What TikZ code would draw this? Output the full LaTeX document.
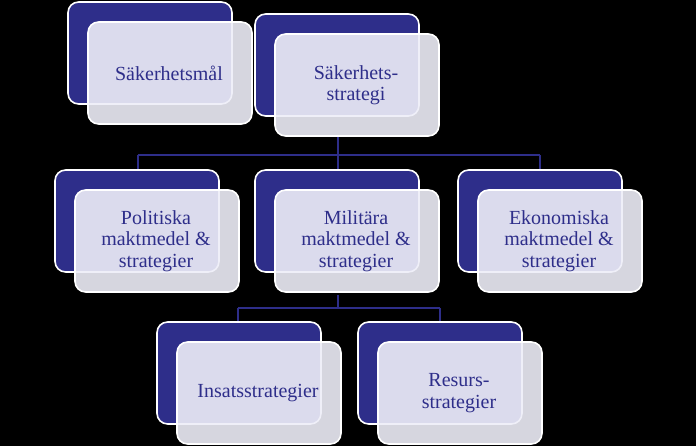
\documentclass[tikz,border=0pt]{standalone}
\usepackage{fontspec}
\setmainfont{Liberation Serif}
\definecolor{navy}{HTML}{2E2E8A}
\definecolor{front}{HTML}{EEEEF8}
\begin{document}
\begin{tikzpicture}[x=0.75pt,y=-0.75pt,
  back/.style={draw=white,line width=1.2pt,fill=navy,rounded corners=8pt},
  frontbox/.style={draw=white,line width=1.2pt,fill=front,fill opacity=0.9,rounded corners=8pt},
  lbl/.style={text=navy,font=\fontsize{15}{16}\selectfont,align=center},
  conn/.style={draw=navy,line width=1pt}]
\fill[black] (0,0) rectangle (696,446);
\useasboundingbox (0,0) rectangle (696,446);
% connectors
\coordinate (t1) at (338,137);
\coordinate (h1) at (338,155);
\coordinate (h1l) at (138,155);
\coordinate (h1r) at (540,155);
\coordinate (h2) at (338,308);
\coordinate (h2l) at (238,308);
\coordinate (h2r) at (440,308);
\draw[conn] (t1) -- (h1) (h1l) -- (h1r) (h1l) -- ++(0,15) (h1) -- ++(0,15) (h1r) -- ++(0,15);
\draw[conn] (338,295) -- (h2) (h2l) -- (h2r) (h2l) -- ++(0,14) (h2r) -- ++(0,14);
% boxes
\newcommand\bx[6]{%
  \draw[back] (#1,#2) rectangle ++(164,102);
  \draw[frontbox] (#1+20,#2+20) rectangle ++(164,102);
  \node[lbl] (#3) at (#1+101,#2+71) {#4};}
\bx{68}{2}{a}{Säkerhetsmål}{}{}
\bx{255}{14}{b}{Säkerhets-\\strategi}{}{}
\bx{55}{170}{c}{Politiska\\maktmedel \&\\strategier}{}{}
\bx{255}{170}{d}{Militära\\maktmedel \&\\strategier}{}{}
\bx{458}{170}{e}{Ekonomiska\\maktmedel \&\\strategier}{}{}
\bx{157}{322}{f}{Insatsstrategier}{}{}
\bx{358}{322}{g}{Resurs-\\strategier}{}{}
\end{tikzpicture}
\end{document}
